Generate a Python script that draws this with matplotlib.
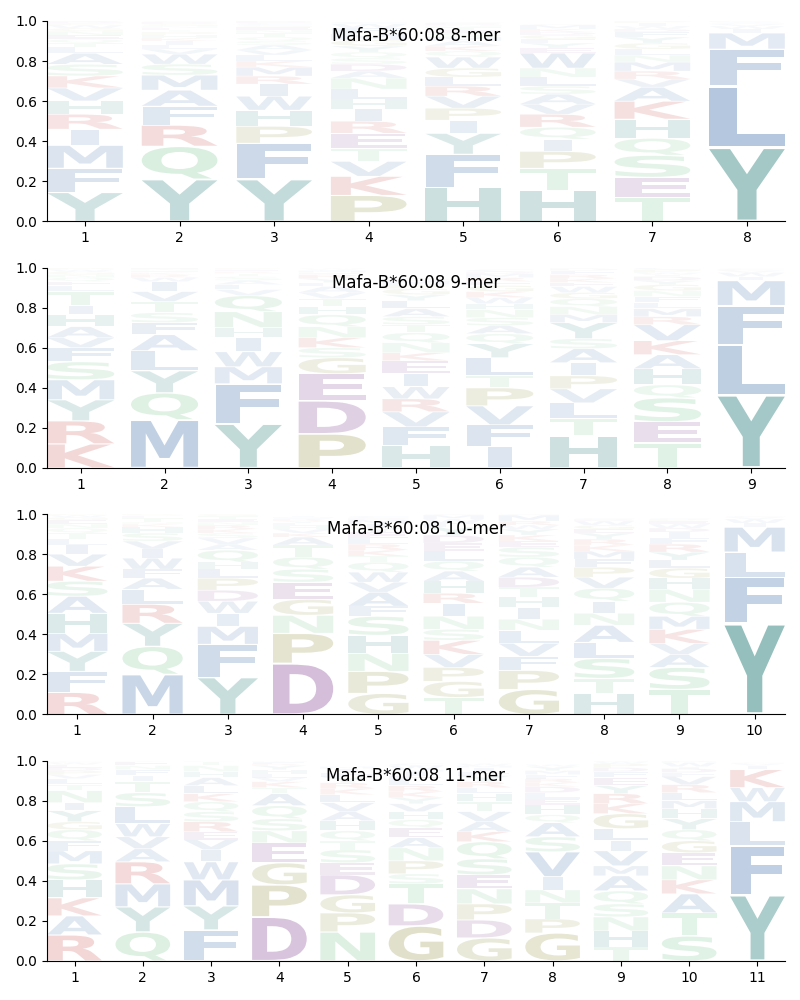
import matplotlib
matplotlib.use("Agg")
import matplotlib.pyplot as plt
from matplotlib.textpath import TextPath
from matplotlib.patches import PathPatch
from matplotlib.font_manager import FontProperties
from matplotlib.transforms import Affine2D

allele = "Mafa-B*60:08"

# letters per position, listed bottom -> top, with their frequencies
mer8_letters = ["YFMIRHVKSALTQENGWPDC", "YQRFAMSWVLIKHPTENGDC", "YFPHWIRMKLVASQTNEGCD",
                "PKVTERIHLNADSQYGMFWC", "HFYIPVRLGWQKAMSETNDC", "HTPIQRVASLNWEYFGDKMC",
                "TESQHKAVRMNLGYFDWIPC", "YLFMIWVCAK"]
mer8_heights = [
    [.145, .12, .115, .08, .075, .066, .065, .06, .058, .055, .03, .02, .02, .02, .02, .015, .015, .01, .01, .01],
    [.21, .165, .105, .095, .08, .075, .055, .05, .025, .02, .02, .015, .015, .015, .01, .01, .01, .01, .01, .005],
    [.21, .18, .085, .08, .07, .06, .04, .045, .03, .03, .025, .025, .02, .02, .02, .015, .015, .01, .01, .01],
    [.13, .095, .075, .065, .075, .06, .06, .05, .05, .055, .035, .035, .03, .03, .03, .03, .03, .03, .02, .01],
    [.17, .165, .105, .065, .06, .06, .05, .045, .045, .055, .03, .025, .025, .02, .02, .015, .015, .01, .01, .005],
    [.155, .11, .085, .06, .06, .065, .05, .05, .04, .045, .045, .075, .025, .025, .02, .02, .015, .015, .02, .005],
    [.12, .1, .11, .085, .095, .09, .07, .04, .04, .045, .035, .03, .03, .03, .025, .015, .015, .015, .01, .005],
    [.37, .305, .185, .08, .02, .015, .01, .005, .005, .005],
]

mer9_letters = ["KRYMSFVAHITLEQNGWPD", "MQYLAFSTVIWRKHNE", "YFMWIHNQVLASTREKG",
                "PDEGSKNQHTVALYRFMIW", "HFVRWIEKNQTSALYGPMDC", "IFVPTLYQASNHWKGERMDC",
                "HTLVPIASYMNQGWEKRFD", "TESQHAKVRMLFNGYDIWPC", "YLFMIWVKC"]
mer9_heights = [
    [.12, .115, .105, .1, .09, .07, .05, .055, .06, .045, .07, .03, .02, .02, .015, .015, .01, .01, .005],
    [.24, .135, .11, .1, .08, .06, .05, .055, .05, .05, .02, .015, .01, .01, .01, .005],
    [.22, .2, .085, .075, .07, .05, .08, .08, .03, .025, .02, .02, .015, .01, .01, .005, .005],
    [.17, .165, .135, .08, .05, .05, .055, .06, .04, .04, .03, .03, .02, .02, .02, .01, .01, .005, .005],
    [.11, .095, .075, .065, .06, .065, .065, .04, .05, .05, .04, .04, .04, .04, .03, .03, .02, .02, .01, .005],
    [.105, .11, .095, .09, .06, .09, .07, .05, .04, .04, .04, .03, .03, .03, .03, .02, .02, .02, .01, .01],
    [.16, .085, .08, .07, .065, .065, .07, .05, .08, .04, .04, .04, .03, .03, .02, .02, .02, .02, .01],
    [.125, .105, .12, .065, .08, .07, .07, .08, .04, .04, .03, .03, .03, .03, .02, .02, .01, .01, .015, .01],
    [.365, .25, .195, .125, .02, .02, .01, .005, .005],
]

mer10_letters = ["RFYMHASKVILTQNEGWP", "MQYRLAFWIVSHKNTEGP", "YFMIWDPLHQAVSKRNETG",
                 "DPNGESQTAKVHLYRFMI", "GPNHSFAVWQTKRLEYIMDC", "TGPVKSNIRHAQLEDYFWMC",
                 "GPFVLNIHTDAQSEKYWRMC", "HTSLANIQVPFMKRYEGWDC", "TSAVKMQNHGLYRFIDWEPC", "YFLMIWVC"]
mer10_heights = [
    [.11, .105, .1, .09, .1, .085, .075, .075, .06, .045, .03, .03, .025, .02, .02, .015, .01, .005],
    [.2, .14, .115, .095, .075, .055, .045, .055, .045, .04, .04, .03, .015, .01, .02, .01, .005, .005],
    [.185, .165, .09, .065, .06, .055, .06, .045, .035, .06, .03, .03, .025, .02, .02, .015, .015, .015, .01],
    [.255, .15, .09, .08, .085, .065, .06, .06, .04, .02, .02, .015, .015, .01, .01, .005, .005, .005],
    [.105, .11, .09, .09, .095, .05, .07, .05, .05, .05, .03, .03, .03, .03, .03, .02, .02, .02, .01, .01],
    [.085, .08, .07, .065, .07, .055, .065, .065, .05, .06, .05, .05, .05, .04, .04, .04, .02, .02, .02, .005],
    [.125, .095, .07, .065, .065, .055, .06, .05, .05, .05, .05, .05, .05, .03, .03, .03, .02, .02, .03, .005],
    [.105, .075, .1, .08, .085, .06, .06, .065, .055, .05, .04, .04, .03, .03, .03, .02, .02, .02, .01, .005],
    [.125, .11, .065, .055, .07, .065, .07, .065, .055, .05, .04, .04, .04, .03, .03, .02, .02, .015, .01, .005],
    [.455, .23, .125, .125, .02, .02, .01, .005],
]

mer11_letters = ["RAKHSMFQGYINTLVPDEWC", "QYMRAVWLSTIFNEK", "FYMWIVERSQKLAHNTP",
                 "DPGENSQATKVLHYRFM", "NPGDESTQHAVLKRYFIM", "GDTSPNAEQHVYKRLFIMWC",
                 "GDPNESQKAVTHLRYFIMW", "GPTNIVSAQHELDKRFMYW", "THNSQAMVILGKRYEFDPWC",
                 "STAKNEGQYHMLRVFDIWPC", "YFLMWKIVC"]
mer11_heights = [
    [.13, .095, .09, .09, .08, .065, .05, .055, .04, .055, .04, .06, .03, .03, .02, .02, .015, .015, .01, .005],
    [.145, .125, .115, .11, .065, .06, .065, .085, .07, .055, .03, .03, .02, .02, .005],
    [.155, .12, .13, .09, .06, .05, .04, .05, .05, .05, .04, .04, .04, .03, .03, .02, .005],
    [.22, .16, .11, .1, .06, .06, .065, .06, .03, .03, .02, .02, .02, .02, .01, .01, .005],
    [.145, .095, .09, .1, .06, .065, .045, .05, .05, .045, .045, .04, .03, .03, .03, .02, .02, .01],
    [.175, .11, .1, .05, .065, .065, .05, .05, .04, .04, .04, .03, .03, .03, .03, .02, .02, .01, .02, .01],
    [.115, .09, .08, .075, .07, .08, .085, .05, .05, .05, .05, .04, .03, .03, .03, .02, .02, .01, .01],
    [.14, .07, .08, .065, .065, .125, .075, .07, .04, .05, .03, .03, .03, .02, .02, .02, .02, .02, .01],
    [.07, .08, .07, .065, .065, .075, .05, .075, .05, .06, .075, .05, .05, .04, .04, .03, .02, .02, .01, .005],
    [.125, .115, .095, .07, .07, .065, .06, .055, .055, .05, .04, .04, .04, .04, .02, .02, .01, .02, .01, .01],
    [.33, .245, .12, .1, .07, .09, .02, .01, .005],
]

panels = [(8, mer8_letters, mer8_heights), (9, mer9_letters, mer9_heights),
          (10, mer10_letters, mer10_heights), (11, mer11_letters, mer11_heights)]

blue = "#4b78af"
teal = "#3f8c88"
green = "#70c285"
olive = "#919141"
purple = "#884c96"
red = "#c84242"
colors = {}
for aa in "AVLIMFWC":
    colors[aa] = blue
for aa in "YH":
    colors[aa] = teal
for aa in "QNST":
    colors[aa] = green
for aa in "PG":
    colors[aa] = olive
for aa in "DE":
    colors[aa] = purple
for aa in "RK":
    colors[aa] = red

fp = FontProperties(family="DejaVu Sans", weight="bold")
e_width = TextPath((0, 0), "E", size=1, prop=fp).get_extents().width


def draw_glyph(ax, ch, x, floor, height, width=0.8, vpad=0.05):
    path = TextPath((0, 0), ch, size=1, prop=fp)
    bb = path.get_extents()
    hs = min(width / bb.width, width / e_width)
    cw = hs * bb.width
    vs = (1 - vpad) * height / bb.height
    t = Affine2D().translate(-bb.x0, -bb.y0).scale(hs, vs).translate(x - cw / 2, floor + vpad * height / 2)
    # fade: small letters almost vanish
    alpha = min(1.0, height ** 0.75)
    ax.add_patch(PathPatch(t.transform_path(path), facecolor=colors[ch], edgecolor="none", alpha=alpha))


fig, axes = plt.subplots(4, 1, figsize=(8, 10), dpi=100)
fig.subplots_adjust(left=0.059, right=0.981, top=0.979, bottom=0.039, hspace=0.23)

for ax, (n, letters, heights) in zip(axes, panels):
    for i in range(n):
        floor = 0.0
        for ch, h in zip(letters[i], heights[i]):
            draw_glyph(ax, ch, i + 1, floor, h)
            floor += h
    ax.set_xlim(0.6, n + 0.4)
    ax.set_ylim(0, 1)
    ax.set_xticks(range(1, n + 1))
    ax.set_yticks([0, 0.2, 0.4, 0.6, 0.8, 1.0])
    ax.spines["top"].set_visible(False)
    ax.spines["right"].set_visible(False)
    ax.text(0.5, 0.925, "%s %d-mer" % (allele, n), transform=ax.transAxes,
            ha="center", va="center", fontsize=12, zorder=10)

fig.savefig("out.png")
